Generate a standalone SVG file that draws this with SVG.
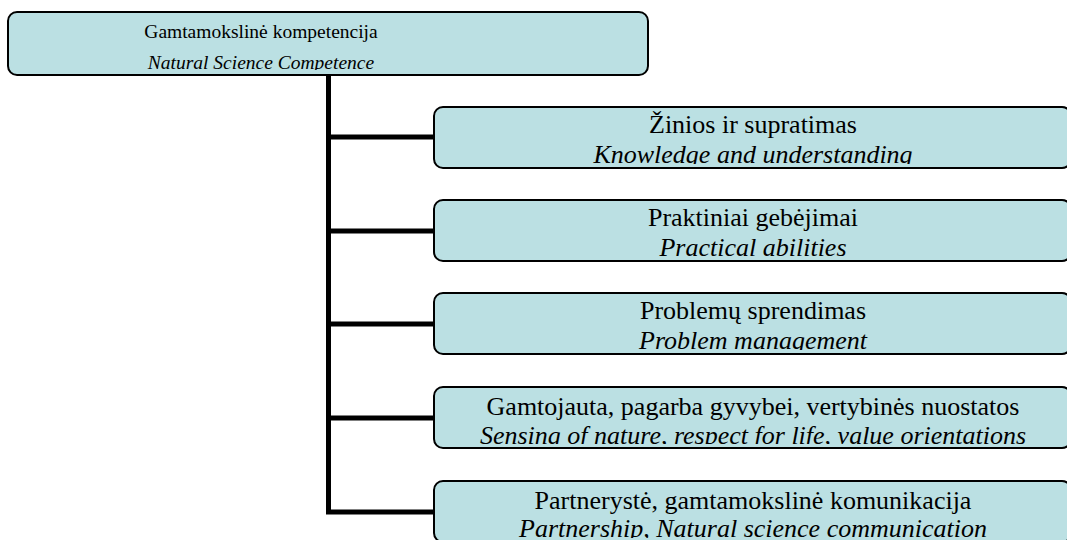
<svg xmlns="http://www.w3.org/2000/svg" width="1067" height="540" viewBox="0 0 1067 540">
<style>
.box{fill:#bbe0e3;stroke:#000;stroke-width:2}
.t{font-family:"Liberation Serif","Times New Roman",serif;font-size:26px;fill:#000;text-anchor:middle}
.r{font-size:19.5px}
.i{font-style:italic}
.c{fill:none;stroke:#000;stroke-width:5}
</style>
<defs>
<clipPath id="c0"><rect x="8" y="12" width="640" height="58"/></clipPath>
<clipPath id="c1"><rect x="434" y="107" width="637" height="57"/></clipPath>
<clipPath id="c2"><rect x="434" y="200" width="637" height="57"/></clipPath>
<clipPath id="c3"><rect x="434" y="293" width="637" height="57"/></clipPath>
<clipPath id="c4"><rect x="434" y="387" width="637" height="57"/></clipPath>
<clipPath id="c5"><rect x="434" y="481" width="637" height="57"/></clipPath>
</defs>
<g id="connectors">
<path class="c" d="M328.5 75 V514.5 M326 137 H434 M326 231 H434 M326 324 H434 M326 418 H434 M326 512 H434"/>
</g>
<g id="root">
<rect class="box" x="8" y="12" width="640" height="63" rx="9"/>
<g clip-path="url(#c0)">
<text class="t r" x="261" y="38">Gamtamokslinė kompetencija</text>
<text class="t r i" x="261" y="69">Natural Science Competence</text>
</g>
</g>
<g id="n1">
<rect class="box" x="434" y="107" width="637" height="61" rx="9"/>
<g clip-path="url(#c1)">
<text class="t" x="753" y="133">Žinios ir supratimas</text>
<text class="t i" x="753" y="163">Knowledge and understanding</text>
</g>
</g>
<g id="n2">
<rect class="box" x="434" y="200" width="637" height="61" rx="9"/>
<g clip-path="url(#c2)">
<text class="t" x="753" y="226">Praktiniai gebėjimai</text>
<text class="t i" x="753" y="256">Practical abilities</text>
</g>
</g>
<g id="n3">
<rect class="box" x="434" y="293" width="637" height="61" rx="9"/>
<g clip-path="url(#c3)">
<text class="t" x="753" y="319">Problemų sprendimas</text>
<text class="t i" x="753" y="349">Problem management</text>
</g>
</g>
<g id="n4">
<rect class="box" x="434" y="387" width="637" height="61" rx="9"/>
<g clip-path="url(#c4)">
<text class="t" x="753" y="415">Gamtojauta, pagarba gyvybei, vertybinės nuostatos</text>
<text class="t i" x="753" y="444">Sensing of nature, respect for life, value orientations</text>
</g>
</g>
<g id="n5">
<rect class="box" x="434" y="481" width="637" height="61" rx="9"/>
<g clip-path="url(#c5)">
<text class="t" x="753" y="509">Partnerystė, gamtamokslinė komunikacija</text>
<text class="t i" x="753" y="537">Partnership, Natural science communication</text>
</g>
</g>
</svg>
